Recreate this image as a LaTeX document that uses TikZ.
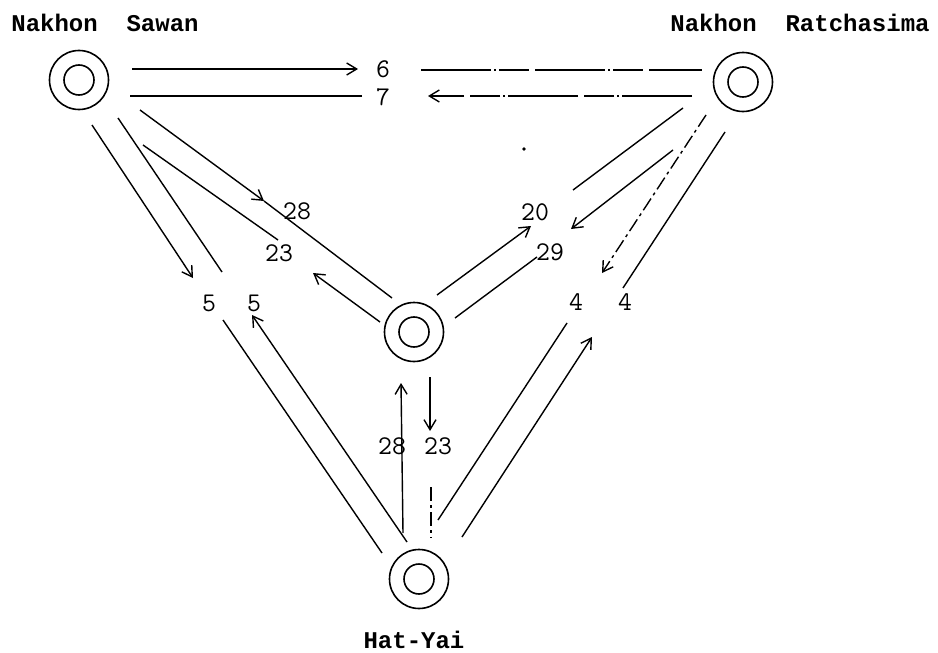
\documentclass[tikz,border=0pt]{standalone}
\usepackage{fontspec}
\usetikzlibrary{arrows.meta}
\newfontfamily\citymono{Liberation Mono}
\begin{document}
\begin{tikzpicture}[x=1pt,y=-1pt,
  city/.style={circle,draw,line width=1.6pt,minimum size=59pt,inner sep=0pt},
  inner/.style={circle,draw,line width=1.6pt,minimum size=30pt,inner sep=0pt},
  cityname/.style={font=\citymono\bfseries\fontsize{24}{28}\selectfont,inner sep=0pt},
  num/.style={font=\ttfamily\fontsize{27}{30}\selectfont,inner sep=0pt},
  flow/.style={line width=1.4pt},
  flowarr/.style={line width=1.4pt,-{Straight Barb[length=10pt,width=12pt]}},
  brk/.style={line width=1.4pt,dash pattern=on 70pt off 3pt on 2pt off 3pt on 30pt off 6pt},
  dsh/.style={line width=1.4pt,dash pattern=on 14pt off 4pt on 3pt off 4pt}]
\useasboundingbox (0,0) rectangle (938,653);
\fill[white] (0,0) rectangle (938,653);

% cities
\node[city] (ns) at (79,80) {};
\node[inner] at (ns) {};
\node[city] (nr) at (743,82) {};
\node[inner] at (nr) {};
\node[city] (ct) at (414,332) {};
\node[inner] at (ct) {};
\node[city] (hy) at (419,579) {};
\node[inner] at (hy) {};

\node[cityname] (nsl) at (105,23) {Nakhon\ \ Sawan};
\node[cityname] (nrl) at (800,23) {Nakhon\ \ Ratchasima};
\node[cityname] (hyl) at (414,640) {Hat-Yai};

% flow labels
\node[num] (n6) at (383,69) {6};
\node[num] (n7) at (383,97) {7};
\node[num] (n28a) at (297,211) {28};
\node[num] (n23a) at (279,253) {23};
\node[num] (n5a) at (209,303) {5};
\node[num] (n5b) at (254,303) {5};
\node[num] (n28b) at (392,446) {28};
\node[num] (n23b) at (438,446) {23};
\node[num] (n20) at (535,212) {20};
\node[num] (n29) at (550,252) {29};
\node[num] (n4a) at (576,302) {4};
\node[num] (n4b) at (625,302) {4};

% endpoints
\coordinate (a1) at (132,69);  \coordinate (a2) at (358,69);
\coordinate (a3) at (421,70);  \coordinate (a4) at (702,70);
\coordinate (b1) at (692,96);  \coordinate (b2) at (428,96);
\coordinate (b3) at (362,96);  \coordinate (b4) at (130,96);
\coordinate (c1) at (140,110); \coordinate (c2) at (264,201); \coordinate (c3) at (392,298);
\coordinate (d1) at (380,322); \coordinate (d2) at (313,273);
\coordinate (d3) at (278,240); \coordinate (d4) at (143,145);
\coordinate (e1) at (92,125);  \coordinate (e2) at (193,278);
\coordinate (e3) at (223,320); \coordinate (e4) at (382,553);
\coordinate (f1) at (407,542); \coordinate (f2) at (252,315);
\coordinate (f3) at (222,272); \coordinate (f4) at (118,118);
\coordinate (g1) at (403,533); \coordinate (g2) at (401,383);
\coordinate (h1) at (430,377); \coordinate (h2) at (430,431);
\coordinate (h3) at (431,487); \coordinate (h4) at (431,538);
\coordinate (i1) at (437,295); \coordinate (i2) at (531,226);
\coordinate (i3) at (573,190); \coordinate (i4) at (683,108);
\coordinate (j1) at (673,150); \coordinate (j2) at (571,229);
\coordinate (j3) at (537,257); \coordinate (j4) at (455,318);
\coordinate (k1) at (706,115); \coordinate (k2) at (602,273);
\coordinate (k3) at (567,323); \coordinate (k4) at (438,520);
\coordinate (l1) at (725,132); \coordinate (l2) at (623,288);
\coordinate (l3) at (462,537); \coordinate (l4) at (592,337);

% Nakhon Sawan <-> Nakhon Ratchasima
\draw[flowarr] (a1) -- (a2);
\draw[brk] (a3) -- (a4);
\draw[flowarr,brk] (b1) -- (b2);
\draw[flow] (b3) -- (b4);
% Nakhon Sawan <-> centre
\draw[flowarr] (c1) -- (c2);
\draw[flow] (c2) -- (c3);
\draw[flowarr] (d1) -- (d2);
\draw[flow] (d3) -- (d4);
% Nakhon Sawan <-> Hat-Yai
\draw[flowarr] (e1) -- (e2);
\draw[flow] (e3) -- (e4);
\draw[flowarr] (f1) -- (f2);
\draw[flow] (f3) -- (f4);
% centre <-> Hat-Yai
\draw[flowarr] (g1) -- (g2);
\draw[flowarr] (h1) -- (h2);
\draw[dsh] (h3) -- (h4);
% centre <-> Nakhon Ratchasima
\draw[flowarr] (i1) -- (i2);
\draw[flow] (i3) -- (i4);
\draw[flowarr] (j1) -- (j2);
\draw[flow] (j3) -- (j4);
% Nakhon Ratchasima <-> Hat-Yai
\draw[flowarr,dsh] (k1) -- (k2);
\draw[flow] (k3) -- (k4);
\draw[flow] (l1) -- (l2);
\draw[flowarr] (l3) -- (l4);

% stray dot
\fill (524,149) circle (1.8pt);
\end{tikzpicture}
\end{document}
